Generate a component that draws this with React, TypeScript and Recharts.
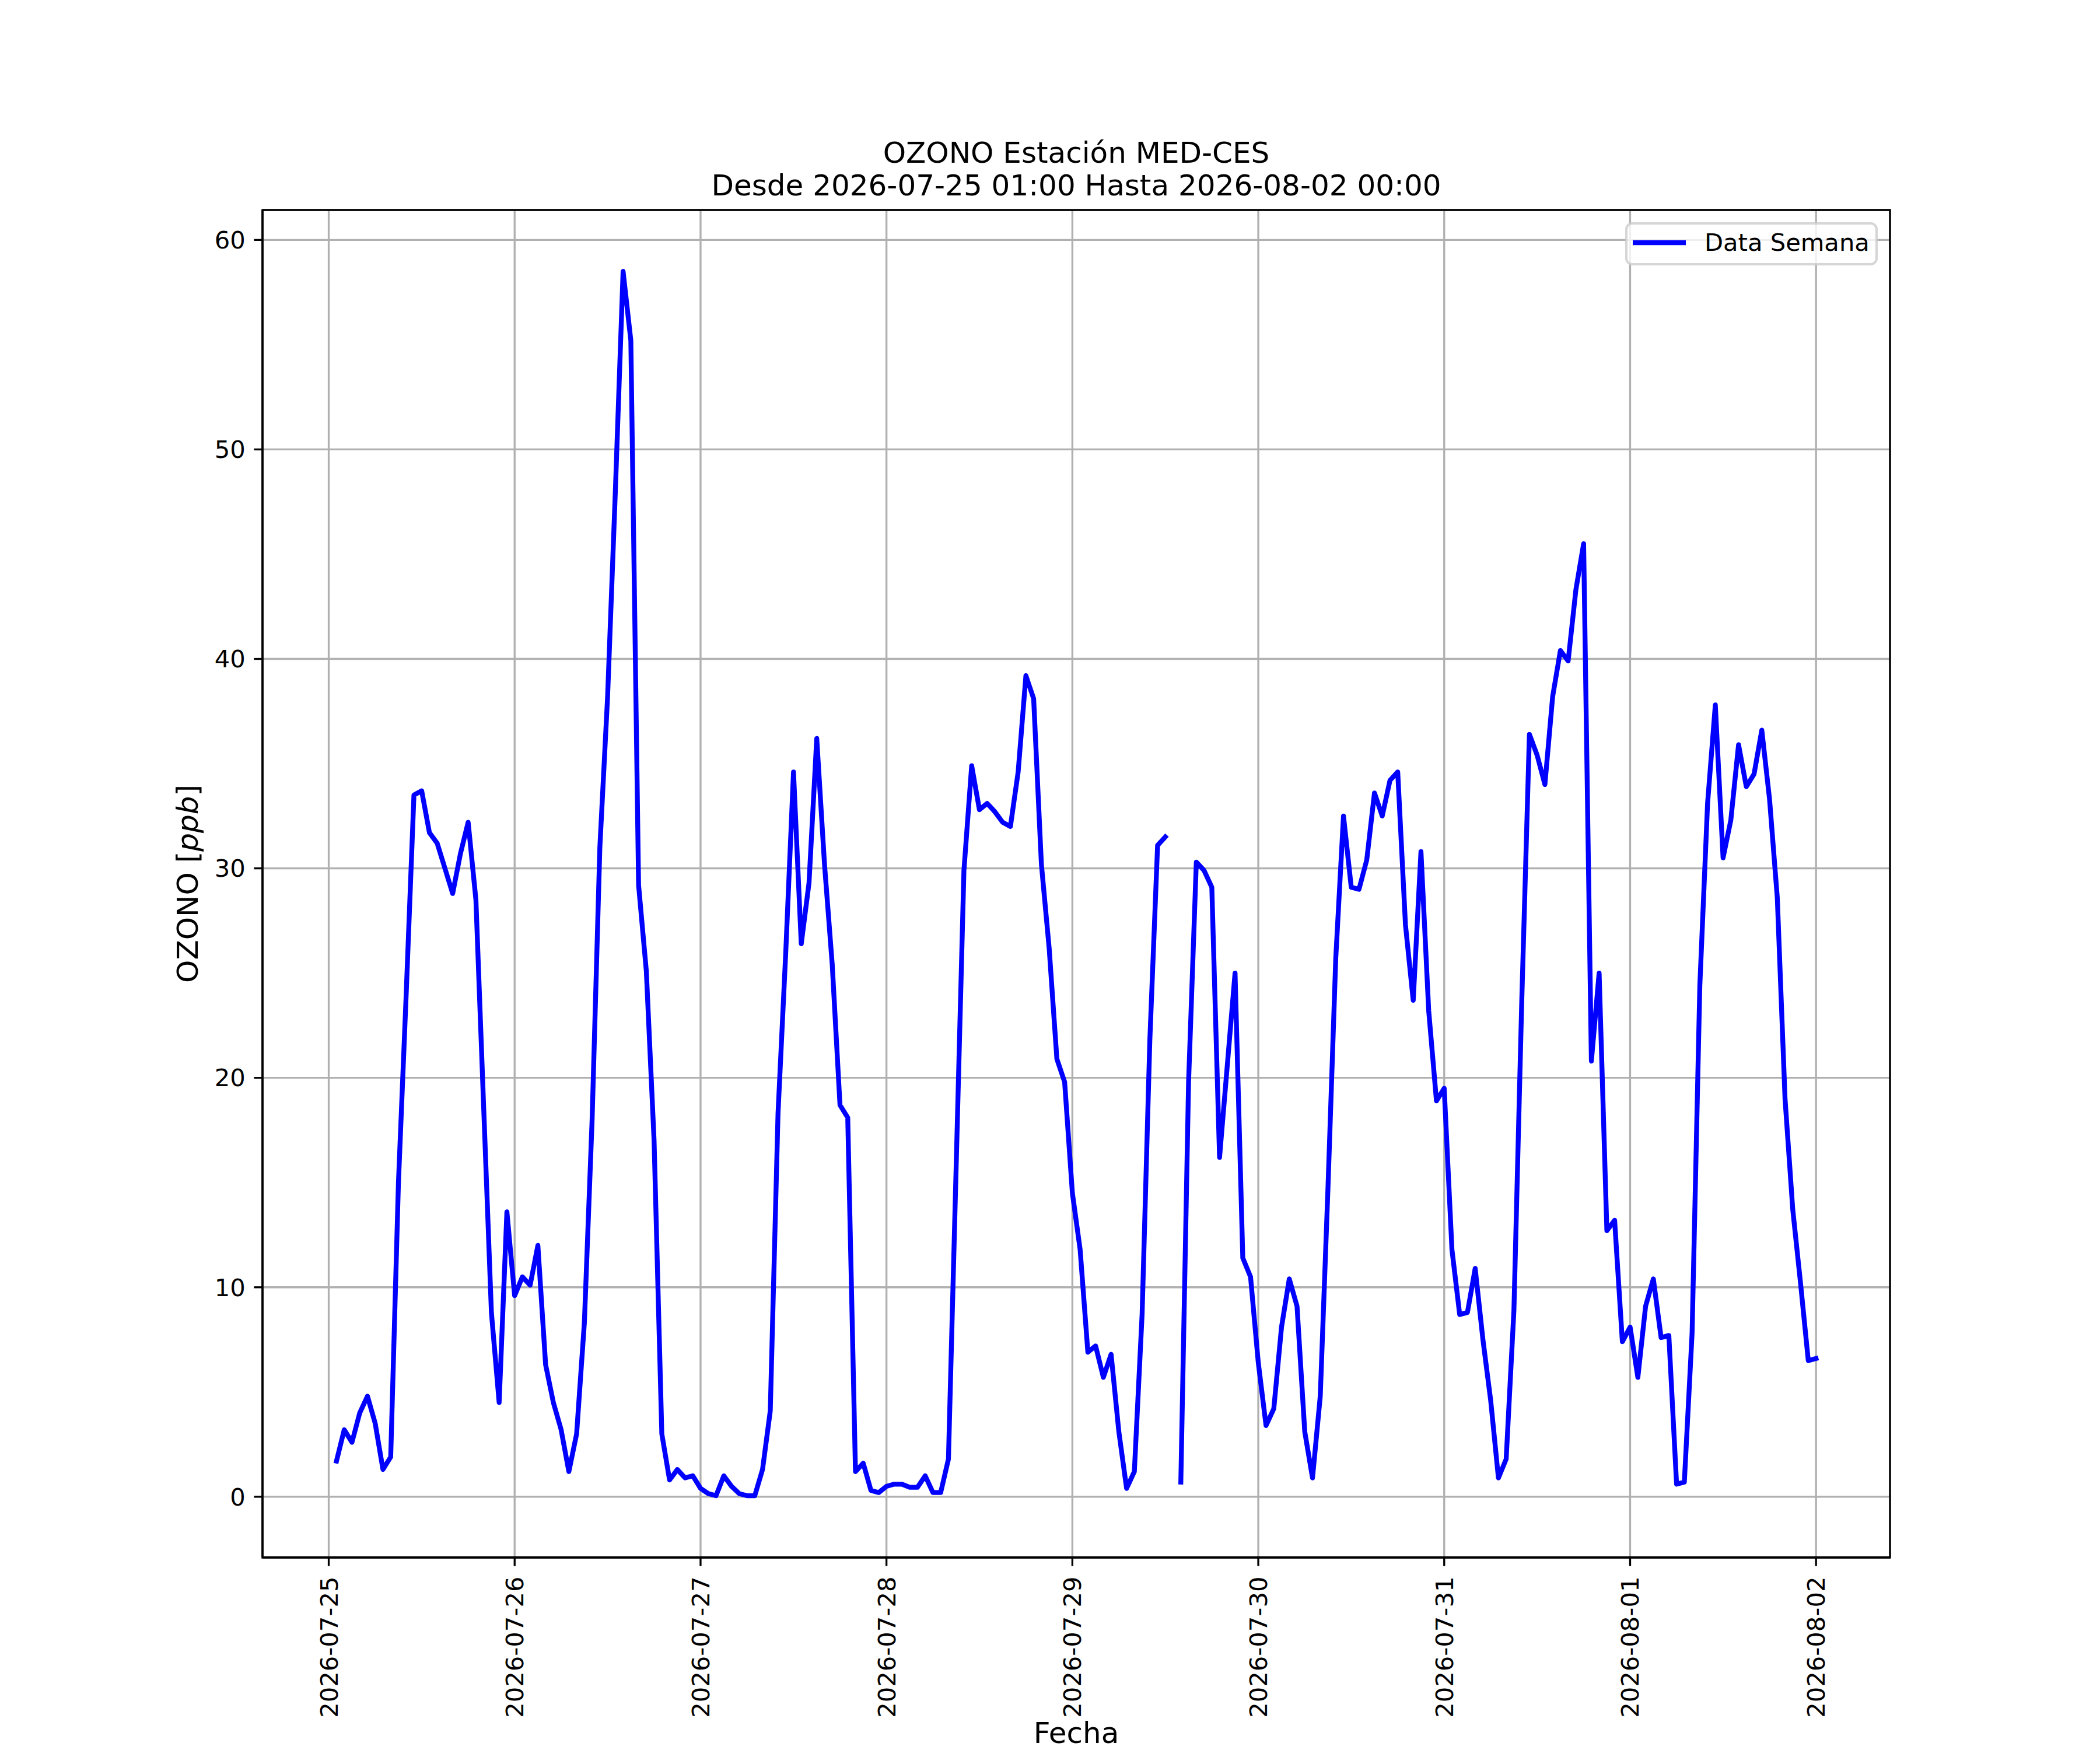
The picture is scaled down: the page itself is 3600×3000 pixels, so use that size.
import {
  CartesianGrid,
  Legend,
  Line,
  LineChart,
  ReferenceArea,
  XAxis,
  YAxis
} from "recharts";

const HOUR = 3600 * 1000;

// hourly ozone readings, 2026-07-25 01:00 .. 2026-08-02 00:00 (one row per day)
const ozone: (number | null)[] = [
  1.7, 3.2, 2.6, 4.0, 4.8, 3.5, 1.3, 1.9, 15.0, 24.0, 33.5, 33.7, 31.7, 31.2, 30.0, 28.8, 30.7, 32.2, 28.5, 18.6, 8.8, 4.5, 13.6, 9.6,
  10.5, 10.1, 12.0, 6.3, 4.5, 3.2, 1.2, 3.0, 8.3, 18.0, 31.0, 38.2, 48.0, 58.5, 55.2, 29.2, 25.1, 17.0, 3.0, 0.8, 1.3, 0.9, 1.0, 0.4,
  0.15, 0.05, 1.0, 0.5, 0.15, 0.05, 0.05, 1.3, 4.1, 18.3, 26.0, 34.6, 26.4, 29.3, 36.2, 30.2, 25.4, 18.7, 18.1, 1.2, 1.6, 0.3, 0.2, 0.5,
  0.6, 0.6, 0.45, 0.45, 1.0, 0.2, 0.2, 1.8, 15.8, 29.9, 34.9, 32.8, 33.1, 32.7, 32.2, 32.0, 34.6, 39.2, 38.1, 30.2, 26.2, 20.9, 19.8, 14.5,
  11.8, 6.9, 7.2, 5.7, 6.8, 3.1, 0.4, 1.2, 8.7, 21.8, 31.1, 31.5, null, 0.7, 19.8, 30.3, 29.9, 29.1, 16.2, 20.6, 25.0, 11.4, 10.5, 6.4,
  3.4, 4.2, 8.1, 10.4, 9.1, 3.1, 0.9, 4.8, 14.8, 25.7, 32.5, 29.1, 29.0, 30.4, 33.6, 32.5, 34.2, 34.6, 27.3, 23.7, 30.8, 23.2, 18.9, 19.5,
  11.8, 8.7, 8.8, 10.9, 7.5, 4.6, 0.9, 1.8, 8.9, 23.5, 36.4, 35.4, 34.0, 38.2, 40.4, 39.9, 43.3, 45.5, 20.8, 25.0, 12.7, 13.2, 7.4, 8.1,
  5.7, 9.1, 10.4, 7.6, 7.7, 0.6, 0.7, 7.8, 24.4, 33.1, 37.8, 30.5, 32.3, 35.9, 33.9, 34.5, 36.6, 33.3, 28.6, 19.0, 13.7, 10.2, 6.5, 6.6
];

const dateTicks = [
  "2026-07-25",
  "2026-07-26",
  "2026-07-27",
  "2026-07-28",
  "2026-07-29",
  "2026-07-30",
  "2026-07-31",
  "2026-08-01",
  "2026-08-02"
];

const yTicks = [0, 10, 20, 30, 40, 50, 60];

const startTime = Date.UTC(2026, 6, 25, 1);

const data = ozone.map((value, i) => ({ t: startTime + i * HOUR, ozone: value }));

const tickValues = dateTicks.map((d) => Date.parse(`${d}T00:00:00Z`));
const labelByTime = new Map(tickValues.map((t, i) => [t, dateTicks[i]]));

// matplotlib-like 5% padding around the data
const tMin = data[0].t;
const tMax = data[data.length - 1].t;
const xPad = (tMax - tMin) * 0.05;
const xDomain: [number, number] = [tMin - xPad, tMax + xPad];
const yDomain: [number, number] = [-2.9, 61.43];

const TICK_SIZE = 41.67;
const LABEL_SIZE = 50;
const LINE_PX = 3.33;

function DateTick({ x, y, payload }: any) {
  return (
    <text
      transform={`translate(${x},${y}) rotate(-90)`}
      textAnchor="end"
      dy="0.36em"
      fontSize={TICK_SIZE}
      fill="#000"
    >
      {labelByTime.get(payload.value) ?? ""}
    </text>
  );
}

function YLabel({ viewBox }: any) {
  const { x, y, width, height } = viewBox;
  return (
    <text
      transform={`translate(${x + width - 111},${y + height / 2}) rotate(-90)`}
      textAnchor="middle"
      fontSize={LABEL_SIZE}
      fill="#000"
    >
      OZONO [<tspan fontStyle="italic">ppb</tspan>]
    </text>
  );
}

function XLabel({ viewBox }: any) {
  const { x, y, width } = viewBox;
  return (
    <text x={x + width / 2} y={y + 318} textAnchor="middle" fontSize={LABEL_SIZE} fill="#000">
      Fecha
    </text>
  );
}

function LegendBox({ payload }: any) {
  const item = payload && payload[0];
  if (!item) return null;
  return (
    <svg width={433} height={74} style={{ display: "block" }}>
      <rect
        x={2}
        y={2}
        width={429}
        height={70}
        rx={10}
        fill="rgba(255,255,255,0.8)"
        stroke="rgba(204,204,204,0.8)"
        strokeWidth={4.17}
      />
      <line x1={13} y1={35} x2={104} y2={35} stroke={item.color} strokeWidth={8.33} />
      <text x={136} y={49} fontSize={TICK_SIZE} fill="#000">
        {item.value}
      </text>
    </svg>
  );
}

export default function App() {
  return (
    <div
      style={{
        position: "absolute",
        left: 0,
        top: 0,
        width: 3600,
        height: 3000,
        background: "#fff",
        fontFamily: "'DejaVu Sans', sans-serif"
      }}
    >
      <LineChart
        width={3600}
        height={3000}
        data={data}
        margin={{ top: 360, right: 360, bottom: 270, left: 390 }}
      >
        <CartesianGrid stroke="#b0b0b0" strokeWidth={LINE_PX} />
        <XAxis
          dataKey="t"
          type="number"
          domain={xDomain}
          allowDataOverflow
          ticks={tickValues}
          interval={0}
          height={60}
          tick={<DateTick />}
          tickSize={14.6}
          tickMargin={18}
          tickLine={{ stroke: "#000", strokeWidth: LINE_PX }}
          axisLine={{ stroke: "#000", strokeWidth: LINE_PX }}
          label={<XLabel />}
        />
        <YAxis
          type="number"
          domain={yDomain}
          allowDataOverflow
          ticks={yTicks}
          interval={0}
          width={60}
          tick={{ fontSize: TICK_SIZE, fill: "#000" }}
          tickSize={14.6}
          tickMargin={14.6}
          tickLine={{ stroke: "#000", strokeWidth: LINE_PX }}
          axisLine={{ stroke: "#000", strokeWidth: LINE_PX }}
          label={<YLabel />}
        />
        <Line
          type="linear"
          dataKey="ozone"
          name="Data Semana"
          stroke="#0000ff"
          strokeWidth={8.33}
          strokeLinecap="square"
          strokeLinejoin="round"
          dot={false}
          activeDot={false}
          connectNulls={false}
          isAnimationActive={false}
        />
        <ReferenceArea
          x1={xDomain[0]}
          x2={xDomain[1]}
          y1={yDomain[0]}
          y2={yDomain[1]}
          fill="none"
          fillOpacity={0}
          stroke="#000"
          strokeWidth={LINE_PX}
          ifOverflow="visible"
        />
        <Legend
          layout="horizontal"
          verticalAlign="middle"
          align="center"
          content={<LegendBox />}
          wrapperStyle={{ position: "absolute", left: 2786, top: 381, width: 433, height: 74 }}
        />
      </LineChart>
      <svg
        width={3600}
        height={3000}
        style={{ position: "absolute", left: 0, top: 0, pointerEvents: "none" }}
      >
        <text x={1845} y={279} textAnchor="middle" fontSize={LABEL_SIZE} fill="#000">
          OZONO Estación MED-CES
        </text>
        <text x={1845} y={335} textAnchor="middle" fontSize={LABEL_SIZE} fill="#000">
          Desde 2026-07-25 01:00 Hasta 2026-08-02 00:00
        </text>
      </svg>
    </div>
  );
}
